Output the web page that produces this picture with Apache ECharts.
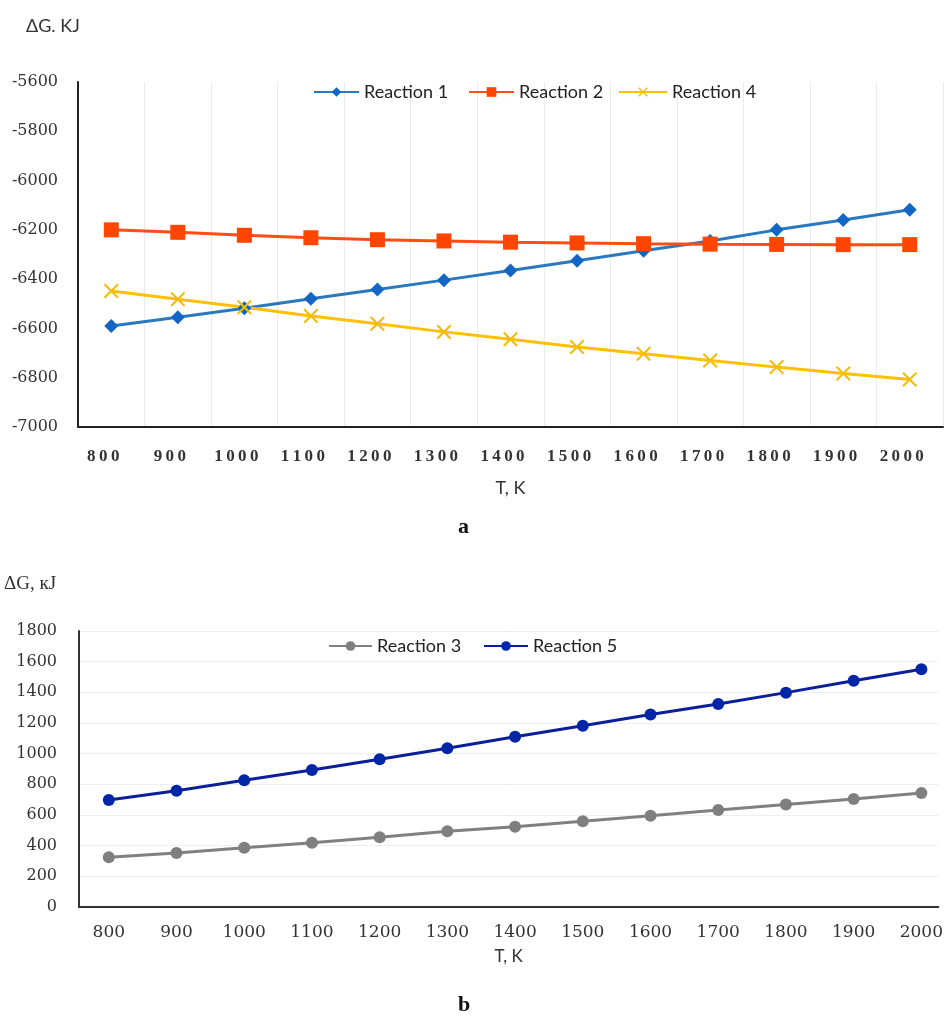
<!DOCTYPE html>
<html>
<head>
<meta charset="utf-8">
<style>
html,body{margin:0;padding:0;background:#fff;}
#chart{width:946px;height:1017px;}
</style>
<script src="https://cdn.jsdelivr.net/npm/echarts@6/dist/echarts.min.js"></script>
</head>
<body>
<div id="chart"></div>
<script>
// ---- Data ----
const temps = [800, 900, 1000, 1100, 1200, 1300, 1400, 1500, 1600, 1700, 1800, 1900, 2000];
const reaction1 = [-6590, -6555, -6518, -6480, -6442, -6404, -6365, -6325, -6285, -6245, -6200, -6160, -6118];
const reaction2 = [-6200, -6210, -6222, -6232, -6240, -6245, -6250, -6253, -6256, -6258, -6259, -6260, -6260];
const reaction4 = [-6448, -6482, -6514, -6550, -6581, -6614, -6644, -6675, -6703, -6730, -6757, -6783, -6807];
const reaction3 = [324, 352, 386, 419, 455, 494, 524, 560, 595, 633, 668, 704, 743];
const reaction5 = [698, 758, 826, 893, 963, 1035, 1110, 1182, 1255, 1324, 1398, 1476, 1550];
const yTicksA = { min: -7000, max: -5600, interval: 200 };
const yTicksB = { min: 0, max: 1800, interval: 200 };

const pairs = (xs, ys) => xs.map((x, i) => [x, ys[i]]);
const crossPath = 'path://M1,0 L5,4 L9,0 L10,1 L6,5 L10,9 L9,10 L5,6 L1,10 L0,9 L4,5 L0,1 Z';
const plain = v => String(v);

const sans = 'Lato';
const serif = 'Liberation Serif';
const dserif = 'DejaVu Serif';

const chart = echarts.init(document.getElementById('chart'), null, { renderer: 'canvas' });

const legendText = { fontFamily: sans, fontSize: 18, color: '#222' };
function legendAt(name, left, top, w) {
  return { data: [name], left: left, top: top, padding: 0, itemWidth: w, itemHeight: 12, textStyle: legendText };
}

chart.setOption({
  animation: false,
  backgroundColor: '#fff',
  title: [
    { text: 'ΔG. KJ', left: 26, top: 17, padding: 0, textStyle: { fontFamily: sans, fontSize: 18, fontWeight: 'normal', color: '#333' } },
    { text: 'a', left: 458, top: 516, padding: 0, textStyle: { fontFamily: serif, fontSize: 22, fontWeight: 'bold', color: '#111' } },
    { text: 'ΔG, кJ', left: 4, top: 575, padding: 0, textStyle: { fontFamily: serif, fontSize: 19, fontWeight: 'normal', color: '#333' } },
    { text: 'b', left: 458, top: 994, padding: 0, textStyle: { fontFamily: serif, fontSize: 22, fontWeight: 'bold', color: '#111' } }
  ],
  legend: [
    legendAt('Reaction 1', 313, 83, 45),
    legendAt('Reaction 2', 468, 83, 45),
    legendAt('Reaction 4', 618, 83, 48),
    legendAt('Reaction 3', 328, 637, 43),
    legendAt('Reaction 5', 483, 637, 44)
  ],
  grid: [
    { left: 78, right: 3, top: 82, height: 345 },
    { left: 79, right: 3, top: 631, height: 276 }
  ],
  xAxis: [
    {
      gridIndex: 0, type: 'category', data: temps, boundaryGap: true,
      axisLine: { show: true, lineStyle: { color: '#222', width: 2 } },
      axisTick: { show: false },
      axisLabel: {
        margin: 21, fontFamily: serif, fontSize: 17, fontWeight: 'bold', color: '#333',
        padding: [0, 16, 0, 0],
        formatter: v => String(v).split('').join('\u2009')
      },
      splitLine: { show: true, lineStyle: { color: '#ebebeb', width: 1 } },
      name: 'T, K', nameLocation: 'middle', nameGap: 52,
      nameTextStyle: { fontFamily: sans, fontSize: 18, color: '#333' }
    },
    {
      gridIndex: 1, type: 'value', min: 756, max: 2025,
      axisLine: { show: true, lineStyle: { color: '#333', width: 2 } },
      axisTick: { show: false },
      axisLabel: { customValues: temps, formatter: plain, margin: 17, fontFamily: dserif, fontSize: 17, color: '#333' },
      splitLine: { show: false },
      name: 'T, K', nameLocation: 'middle', nameGap: 41,
      nameTextStyle: { fontFamily: sans, fontSize: 17, color: '#333' }
    }
  ],
  yAxis: [
    {
      gridIndex: 0, type: 'value', min: yTicksA.min, max: yTicksA.max, interval: yTicksA.interval,
      axisLine: { show: true, lineStyle: { color: '#222', width: 2 } },
      axisTick: { show: false },
      axisLabel: { formatter: plain, margin: 20, fontFamily: dserif, fontSize: 16, color: '#333' },
      splitLine: { show: false }
    },
    {
      gridIndex: 1, type: 'value', min: yTicksB.min, max: yTicksB.max, interval: yTicksB.interval,
      axisLine: { show: true, lineStyle: { color: '#333', width: 2 } },
      axisTick: { show: false },
      axisLabel: { formatter: plain, margin: 22, fontFamily: dserif, fontSize: 16, color: '#333' },
      splitLine: { show: true, lineStyle: { color: '#efefef', width: 1 } }
    }
  ],
  series: [
    {
      name: 'Reaction 1', type: 'line', xAxisIndex: 0, yAxisIndex: 0, data: reaction1,
      symbol: 'diamond', symbolSize: 14,
      lineStyle: { color: '#2a79bf', width: 3 }, itemStyle: { color: '#1466c4' }
    },
    {
      name: 'Reaction 2', type: 'line', xAxisIndex: 0, yAxisIndex: 0, data: reaction2,
      symbol: 'rect', symbolSize: 15,
      lineStyle: { color: '#ff4d14', width: 3 }, itemStyle: { color: '#ff4500' }
    },
    {
      name: 'Reaction 4', type: 'line', xAxisIndex: 0, yAxisIndex: 0, data: reaction4,
      symbol: crossPath, symbolSize: 15,
      lineStyle: { color: '#ffc000', width: 3 }, itemStyle: { color: '#f2bd10' }
    },
    {
      name: 'Reaction 3', type: 'line', xAxisIndex: 1, yAxisIndex: 1, data: pairs(temps, reaction3),
      symbol: 'circle', symbolSize: 12,
      lineStyle: { color: '#808080', width: 3 }, itemStyle: { color: '#7f7f7f' }
    },
    {
      name: 'Reaction 5', type: 'line', xAxisIndex: 1, yAxisIndex: 1, data: pairs(temps, reaction5),
      symbol: 'circle', symbolSize: 12,
      lineStyle: { color: '#0b1f99', width: 3 }, itemStyle: { color: '#0026a8' }
    }
  ]
});
</script>
</body>
</html>
